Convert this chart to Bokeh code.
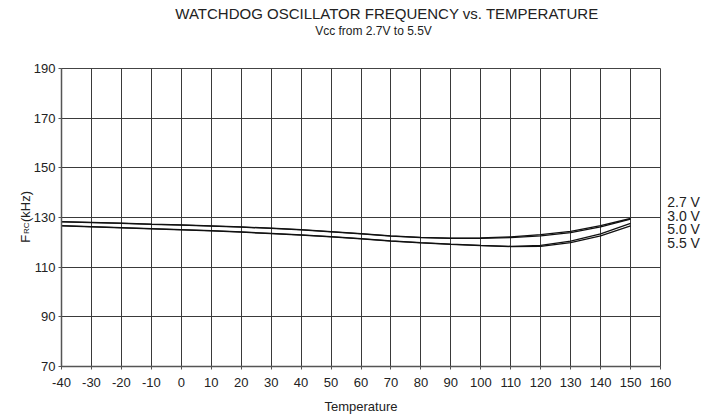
from bokeh.plotting import figure
from bokeh.models import Range1d, FixedTicker, Label, ColumnDataSource
from bokeh.embed import file_html
from bokeh.resources import INLINE
import math

temps = [-40, -30, -20, -10, 0, 10, 20, 30, 40, 50, 60, 70, 80, 90, 100, 110, 120, 130, 140, 150]
f_27 = [128.3, 128.0, 127.7, 127.3, 127.0, 126.6, 126.2, 125.7, 125.1, 124.3, 123.5, 122.6, 122.0, 121.7, 121.8, 122.2, 123.1, 124.4, 126.7, 129.6]
f_30 = [128.2, 127.9, 127.6, 127.2, 126.9, 126.5, 126.1, 125.6, 125.0, 124.2, 123.4, 122.5, 121.9, 121.6, 121.6, 121.9, 122.6, 123.9, 126.2, 129.3]
f_50 = [126.7, 126.3, 125.9, 125.5, 125.1, 124.7, 124.2, 123.6, 123.0, 122.3, 121.5, 120.6, 119.9, 119.3, 118.8, 118.4, 118.8, 120.5, 123.4, 127.6]
f_55 = [126.6, 126.2, 125.8, 125.4, 125.0, 124.6, 124.1, 123.5, 122.9, 122.2, 121.4, 120.5, 119.8, 119.2, 118.7, 118.3, 118.4, 119.9, 122.6, 126.6]
series_labels = ["2.7 V", "3.0 V", "5.0 V", "5.5 V"]
x_ticks = list(range(-40, 161, 10))
y_ticks = [70, 90, 110, 130, 150, 170, 190]
title_text = "WATCHDOG OSCILLATOR FREQUENCY vs. TEMPERATURE"
subtitle_text = "Vcc from 2.7V to 5.5V"

FONT = "Liberation Sans"
TXT = "#222222"

p = figure(width=705, height=420, output_backend="svg", toolbar_location=None,
           x_range=Range1d(-40, 160), y_range=Range1d(70, 190),
           min_border_left=60, min_border_right=45, min_border_top=68, min_border_bottom=54)
p.background_fill_color = "white"
p.border_fill_color = "white"
p.outline_line_color = "#444444"
p.outline_line_width = 1

src = ColumnDataSource(dict(t=temps, a=f_27, b=f_30, c=f_50, d=f_55))
for col in ["a", "b", "c", "d"]:
    p.line("t", col, source=src, line_color="#111111", line_width=1.3)

p.xaxis.ticker = FixedTicker(ticks=x_ticks)
p.yaxis.ticker = FixedTicker(ticks=y_ticks)
p.xaxis.major_label_overrides = {t: str(t) for t in x_ticks}
p.xgrid.ticker = FixedTicker(ticks=x_ticks)
p.ygrid.ticker = FixedTicker(ticks=y_ticks)
for g in (p.xgrid, p.ygrid):
    g.grid_line_color = "#3a3a3a"
    g.grid_line_width = 1

for ax in (p.xaxis, p.yaxis):
    ax.axis_line_color = "#555555"
    ax.axis_line_width = 1.5
    ax.major_tick_line_color = "#555555"
    ax.major_tick_out = 3
    ax.major_tick_in = 0
    ax.minor_tick_line_color = None
    ax.major_label_text_font = FONT
    ax.major_label_text_font_size = "13px"
    ax.major_label_text_color = TXT

p.xaxis.major_label_standoff = 8
p.yaxis.major_label_standoff = 3
p.xaxis.axis_label = "Temperature"
p.xaxis.axis_label_text_font = FONT
p.xaxis.axis_label_text_font_size = "13px"
p.xaxis.axis_label_text_font_style = "normal"
p.xaxis.axis_label_text_color = TXT
p.xaxis.axis_label_standoff = 9

x_lo, x_hi = p.x_range.start, p.x_range.end
x_mid = (x_lo + x_hi) / 2
y_top = p.y_range.end
y_ref = 130


def plabel(panel, x, y, dx, dy, text, size, align="left", angle=0.0,
           baseline="alphabetic", line_height=1.2):
    # text anchored to a data point plus a pixel offset, kept in a side panel
    # so that it is not clipped to the frame
    p.add_layout(Label(x=x, y=y, x_offset=dx, y_offset=dy, text=text,
                       angle=angle, text_font=FONT, text_font_size=size,
                       text_color=TXT, text_align=align, text_baseline=baseline,
                       text_line_height=line_height), panel)


rot = math.pi / 2

# above panel: title, subtitle and the subscript of the y label
plabel("above", x_mid, y_top, 26, 63.7, title_text, "15px", "center", baseline="top")
plabel("above", x_mid, y_top, 12.5, 44.9, subtitle_text, "12px", "center", baseline="top")
plabel("above", x_lo, y_ref, -35.0, -16.5, "RC", "8px", angle=rot)

# right panel: series labels as one multi-line text
plabel("right", x_hi, y_ref, 6.7, 23.9, "\n".join(series_labels), "14px",
       baseline="top", line_height=0.87)

# left panel: F and (kHz)
plabel("left", x_lo, y_ref, -36.5, -25.3, "F", "13px", angle=rot, line_height=1.0)
plabel("left", x_lo, y_ref, -36.5, -4.5, "(kHz)", "13px", angle=rot, line_height=1.0)

open("out.html", "w").write(file_html(p, INLINE))
